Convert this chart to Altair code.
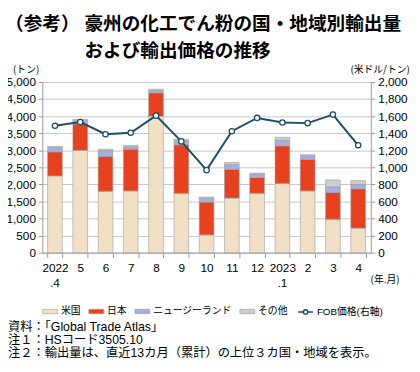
import altair as alt
import pandas as pd

# ---- data ----
months = ["2022", "5", "6", "7", "8", "9", "10", "11", "12", "2023", "2", "3", "4"]
month_sub = [".4", "", "", "", "", "", "", "", "", ".1", "", "", ""]
series = ["米国", "日本", "ニュージーランド", "その他"]
us = [2250, 3000, 1800, 1810, 4000, 1740, 520, 1600, 1740, 2030, 1810, 980, 720]
japan = [700, 770, 1020, 1220, 680, 1420, 960, 840, 460, 1100, 920, 780, 1150]
nz = [130, 100, 170, 70, 70, 120, 110, 140, 100, 160, 110, 170, 130]
other = [30, 40, 40, 40, 40, 40, 40, 60, 30, 90, 30, 200, 110]
fob = [1487, 1530, 1388, 1405, 1606, 1304, 967, 1423, 1579, 1526, 1518, 1618, 1258]
fob_name = "FOB価格(右軸)"
left_ticks = list(range(0, 5001, 500))
right_ticks = list(range(0, 2001, 200))

title_tag = "（参考）"
title_line1 = "豪州の化工でん粉の国・地域別輸出量"
title_line2 = "および輸出価格の推移"
note_lines = ["資料：「Global Trade Atlas」", "注１：HSコード3505.10",
              "注２：輸出量は、直近13カ月（累計）の上位３カ国・地域を表示。"]

colors = ["#f2e0c6", "#e8411d", "#a7aee2", "#cdcdcd"]
line_color = "#1d4d6b"
JP = "Noto Sans CJK JP"
NUM = "Liberation Sans"
MIX = "'Liberation Sans', 'Noto Sans CJK JP'"

rows = []
for i, m in enumerate(months):
    for j, (s, vals) in enumerate(zip(series, [us, japan, nz, other])):
        rows.append({"month": m, "series": s, "rank": j, "value": vals[i]})
bar_df = pd.DataFrame(rows)
fob_df = pd.DataFrame({"month": months, "fob": fob, "name": [fob_name] * len(months)})
sub_df = pd.DataFrame({"month": months, "sub": month_sub})

x_axis = alt.Axis(
    title="(年.月)", titleX=349, titleY=27, titleAlign="center", titleBaseline="middle",
    titleFont=JP, titleFontSize=10, titleFontWeight="normal", titleColor="black",
    labelAngle=0, labelFont=NUM, labelFontSize=12, labelColor="black",
    labelBaseline="top", labelPadding=5,
    tickBand="extent", tickSize=5, tickColor="#999999", domainColor="#999999", grid=False,
)
x_enc = alt.X("month:N", sort=months,
              scale=alt.Scale(paddingInner=0.42, paddingOuter=0.21), axis=x_axis)

bars = alt.Chart(bar_df).mark_bar(stroke="#9c9c9c", strokeWidth=0.6).encode(
    x=x_enc,
    y=alt.Y("value:Q", stack="zero", scale=alt.Scale(domain=[0, 5000], nice=False),
            axis=alt.Axis(values=left_ticks, format=",.0f", title="(トン)", titleAngle=0,
                          titleX=-17, titleY=-13, titleAlign="center", titleBaseline="middle",
                          titleFont=JP, titleFontSize=10, titleFontWeight="normal", titleColor="black",
                          labelFont=NUM, labelFontSize=12, labelColor="black", labelPadding=3,
                          tickSize=4, tickColor="#999999", domainColor="#999999",
                          grid=True, gridColor="#c8c8c8")),
    fill=alt.Fill("series:N", sort=series, scale=alt.Scale(domain=series, range=colors),
                  legend=alt.Legend(title=None, orient="none", legendX=0, legendY=226,
                                    direction="horizontal", symbolType="M-1,-0.3H1V0.3H-1Z",
                                    symbolSize=225, symbolStrokeColor="#999999", symbolStrokeWidth=0.6,
                                    labelFont=JP, labelFontSize=10, labelColor="black",
                                    labelOffset=3, columnPadding=7)),
    order=alt.Order("rank:Q"),
)

line = alt.Chart(fob_df).mark_line(
    strokeWidth=2,
    point=alt.OverlayMarkDef(filled=True, fill="white", stroke=line_color, strokeWidth=1.3, size=30),
).encode(
    x=x_enc,
    y=alt.Y("fob:Q", scale=alt.Scale(domain=[0, 2000], nice=False),
            axis=alt.Axis(orient="right", values=right_ticks, format=",.0f", title="(米ドル/トン)",
                          titleAngle=0, titleX=9, titleY=-13, titleAlign="center", titleBaseline="middle",
                          titleFont=JP, titleFontSize=10, titleFontWeight="normal", titleColor="black",
                          labelFont=NUM, labelFontSize=12, labelColor="black", labelPadding=3,
                          tickSize=4, tickColor="#999999", domainColor="#999999", grid=False)),
    stroke=alt.Stroke("name:N", scale=alt.Scale(range=[line_color]),
                      legend=alt.Legend(title=None, orient="none", legendX=260, legendY=226,
                                        symbolType="M-1,0H-0.3M0.3,0H1M-0.3,0A0.3,0.3 0 1,0 0.3,0A0.3,0.3 0 1,0 -0.3,0",
                                        symbolSize=225, symbolStrokeWidth=1.4, symbolFillColor="white",
                                        labelFont=MIX, labelFontSize=10, labelColor="black", labelOffset=3)),
)

sub_text = alt.Chart(sub_df).mark_text(
    align="center", baseline="middle", font=NUM, fontSize=12, color="black"
).encode(x=alt.X("month:N", sort=months), text="sub:N", y=alt.value(205))


def text_layer(txt, x, y, size, weight="normal", align="left", font=JP):
    return alt.Chart(pd.DataFrame({"t": [txt]})).mark_text(
        align=align, baseline="middle", font=font, fontSize=size, fontWeight=weight, color="black"
    ).encode(text="t:N", x=alt.value(x), y=alt.value(y))


tag_text = text_layer(title_tag, 38, -59, 19, "bold", "right")
title1 = text_layer(title_line1, 43, -59, 19, "bold")
title2 = text_layer(title_line2, 43, -32, 19, "bold")
note1 = text_layer(note_lines[0], -35, 250, 12.5, font=MIX)
note2 = text_layer(note_lines[1], -35, 263, 12.5, font=MIX)
note3 = text_layer(note_lines[2], -35, 276, 12.5, font=MIX)

chart = alt.layer(bars, line, sub_text, tag_text, title1, title2, note1, note2, note3).resolve_scale(
    y="independent"
).properties(
    width=335, height=174,
    padding={"left": 35, "top": 72, "right": 42, "bottom": 106},
    autosize=alt.AutoSizeParams(type="none"),
).configure(font=JP).configure_view(stroke=None)

chart.save("out.html", embed_options={"renderer": "svg", "actions": False})
